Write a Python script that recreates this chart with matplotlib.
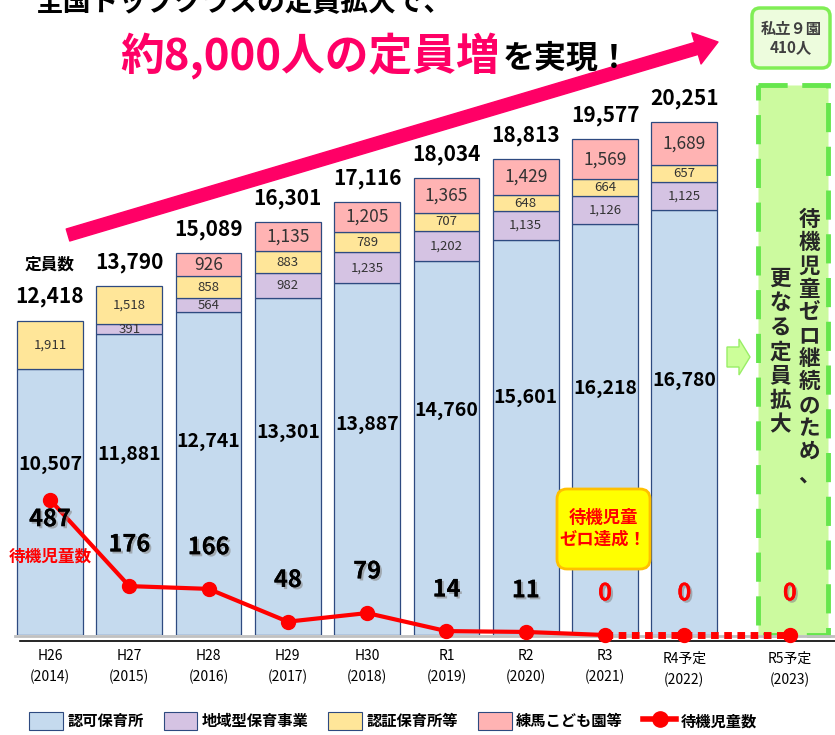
import numpy as np
import matplotlib
matplotlib.use('Agg')
import matplotlib.pyplot as plt
from matplotlib.patches import Rectangle, FancyBboxPatch, FancyArrow, Patch
from matplotlib.lines import Line2D
from matplotlib.transforms import Affine2D
import matplotlib.patheffects as pe

plt.rcParams['font.family'] = ['Noto Sans CJK JP', 'DejaVu Sans']

# ---------------- data ----------------
years = ['H26\n(2014)', 'H27\n(2015)', 'H28\n(2016)', 'H29\n(2017)', 'H30\n(2018)',
         'R1\n(2019)', 'R2\n(2020)', 'R3\n(2021)', 'R4予定\n(2022)']
ninka = [10507, 11881, 12741, 13301, 13887, 14760, 15601, 16218, 16780]
chiiki = [0, 391, 564, 982, 1235, 1202, 1135, 1126, 1125]
ninsho = [1911, 1518, 858, 883, 789, 707, 648, 664, 657]
nerima = [0, 0, 926, 1135, 1205, 1365, 1429, 1569, 1689]
totals = [12418, 13790, 15089, 16301, 17116, 18034, 18813, 19577, 20251]
taiki = [487, 176, 166, 48, 79, 14, 11, 0, 0, 0]
last_label = 'R5予定\n(2023)'

c_blue = '#C5DAEE'
c_purple = '#D5C3E3'
c_yellow = '#FFE699'
c_pink = '#FFB3B3'
c_red = '#FF0000'
c_mag = '#FF0066'
edge = '#2E4A80'

W, H = 835, 735
fig = plt.figure(figsize=(W / 100, H / 100), dpi=100)
# pixel coords, origin top-left
px = Affine2D().scale(1 / W, -1 / H).translate(0, 1) + fig.transFigure

ax = fig.add_axes([0, 100 / H, 1, 635 / H])
ax.set_xlim(-0.63, 9.9)
ax.set_ylim(0, 25080)
ax.axis('off')
ax2 = ax.twinx()
ax2.set_ylim(0, 2286)
ax2.axis('off')

x = np.arange(len(ninka))
x_all = np.append(x, 9.33)
bw = 0.83

b0 = np.zeros(len(x))
for vals, col in [(ninka, c_blue), (chiiki, c_purple), (ninsho, c_yellow), (nerima, c_pink)]:
    v = np.array(vals)
    ax.bar(x[v > 0], v[v > 0], bw, bottom=b0[v > 0], color=col, edgecolor=edge,
           linewidth=0.9, zorder=2)
    b0 = b0 + v

# segment labels
bot = np.array(ninka, dtype=float)
for vals, fs in [(chiiki, 9.5), (ninsho, 9.5), (nerima, 12.5)]:
    for i, v in enumerate(vals):
        if v > 0:
            ax.text(x[i], bot[i] + v / 2, f'{v:,}', ha='center', va='center',
                    fontsize=fs if i > 0 else 9.5, color='#333333', zorder=4)
    bot = bot + np.array(vals)

# blue labels
for i, v in enumerate(ninka):
    frac = 0.64 if i == 0 else 0.6
    ax.text(x[i], v * frac, f'{v:,}', ha='center', va='center', fontsize=14,
            fontweight='bold', color='black', zorder=4)

# totals
for i, v in enumerate(totals):
    ax.annotate(f'{v:,}', (x[i], v), xytext=(0, 17), textcoords='offset points',
                ha='center', va='center', fontsize=15, fontweight='bold', zorder=4)
ax.text(50, 265, '定員数', transform=px, ha='center', va='center', fontsize=12,
        fontweight='bold')

# green box for R5
ax.add_patch(Rectangle((758, 85), 70, 550, transform=px, facecolor='#CCFA9F',
                       edgecolor='#66E64D', linewidth=3.5, linestyle=(0, (6, 3)),
                       zorder=1, clip_on=False))
col1 = '待機児童ゼロ継続のため、'
col2 = '更なる定員拡大'
ax.text(809, 209, '\n'.join(col1), transform=px, ha='center', va='top', fontsize=15.5,
        fontweight='bold', color='#262626', linespacing=1.13, zorder=3)
ax.text(780, 268, '\n'.join(col2), transform=px, ha='center', va='top', fontsize=15.5,
        fontweight='bold', color='#262626', linespacing=1.2, zorder=3)

# small top box
fig.patches.append(FancyBboxPatch((752, 8), 78, 60, boxstyle='round,pad=0,rounding_size=8',
                                  transform=px, facecolor='#EDFCDD', edgecolor='#80EE55',
                                  linewidth=2.5))
fig.text(791, 38, '私立９園\n410人', transform=px, ha='center', va='center', fontsize=11,
         fontweight='bold', color='#404040', linespacing=1.2)

# small arrow
fig.patches.append(FancyArrow(727, 357, 12, 0, width=20, head_width=36, head_length=11,
                              length_includes_head=False, transform=px,
                              facecolor='#CCFF99', edgecolor='#99EE66', linewidth=1))

# waiting children line
ax2.plot(x_all[:8], taiki[:8], color=c_red, linewidth=3, zorder=5, clip_on=False)
ax2.plot(x_all[7:], taiki[7:], color=c_red, linewidth=5, linestyle=(0, (1.1, 0.8)),
         zorder=5, clip_on=False)
ax2.plot(x_all, taiki, 'o', color=c_red, markersize=10, zorder=6, clip_on=False)

shadow = [pe.withSimplePatchShadow(offset=(1.5, -1.5), shadow_rgbFace='#888888', alpha=0.6),
          pe.Normal()]
for i, v in enumerate(taiki):
    dy = -14 if i == 0 else 30
    ax2.annotate(f'{v}', (x_all[i], v), xytext=(0, dy), textcoords='offset points',
                 ha='center', va='center', fontsize=17, fontweight='bold',
                 color=c_red if v == 0 else 'black', path_effects=shadow, zorder=7)
ax.text(50, 557, '待機児童数', transform=px, ha='center', va='center', fontsize=12,
        fontweight='bold', color=c_red, zorder=7)

# callout
fig.patches.append(FancyBboxPatch((557, 489), 93, 80, boxstyle='round,pad=0,rounding_size=10',
                                  transform=px, facecolor='#FFFF00', edgecolor='#FFC000',
                                  linewidth=2))
fig.text(603, 529, '待機児童\nゼロ達成！', transform=px, ha='center', va='center',
         fontsize=12.5, fontweight='bold', color=c_red, linespacing=1.25)

# baseline
ax.add_line(Line2D([15, 835], [636, 636], transform=px, color='#C0C0C0', linewidth=2,
                   clip_on=False, zorder=3))
ax.add_line(Line2D([20, 835], [641, 641], transform=px, color='black', linewidth=1.2,
                   clip_on=False, zorder=3))

# x labels
tr = ax.get_xaxis_transform()
for i, lab in enumerate(years + [last_label]):
    dy = -0.055 if '予定' in lab else -0.05
    ax.text(x_all[i], dy, lab, transform=tr, ha='center', va='center', fontsize=10,
            family=['Liberation Sans Narrow', 'Noto Sans CJK JP'], linespacing=1.6)

# big arrow
ax.annotate('', xy=(718, H - 42), xytext=(68, H - 235), xycoords='figure pixels',
            textcoords='figure pixels',
            arrowprops=dict(arrowstyle='simple,head_length=0.9,head_width=1.3,tail_width=0.5',
                            mutation_scale=18, color=c_mag, shrinkA=0, shrinkB=0))

# title
fig.text(35, 3, '全国トップクラスの定員拡大で、', transform=px, ha='left', va='center',
         fontsize=20, fontweight='bold', color='black')
fig.text(120, 56, '約8,000人の定員増', transform=px, ha='left', va='center',
         fontsize=31.5, fontweight='bold', color=c_mag)
fig.text(503, 59, 'を実現！', transform=px, ha='left', va='center',
         fontsize=23, fontweight='bold', color='black')

# legend
handles = [Patch(facecolor=c_blue, edgecolor=edge, linewidth=0.8),
           Patch(facecolor=c_purple, edgecolor=edge, linewidth=0.8),
           Patch(facecolor=c_yellow, edgecolor=edge, linewidth=0.8),
           Patch(facecolor=c_pink, edgecolor=edge, linewidth=0.8),
           Line2D([], [], color=c_red, linewidth=4, marker='o', markersize=11)]
labels = ['認可保育所', '地域型保育事業', '認証保育所等', '練馬こども園等', '待機児童数']
fig.legend(handles, labels, loc='center left', bbox_to_anchor=(0.035, 1 - 721 / H),
           ncol=5, frameon=False, handlelength=2.2, handleheight=1.4, handletextpad=0.3,
           columnspacing=1.3, borderaxespad=0, borderpad=0,
           prop={'weight': 'bold', 'size': 11})

fig.savefig('out.png', dpi=100)
